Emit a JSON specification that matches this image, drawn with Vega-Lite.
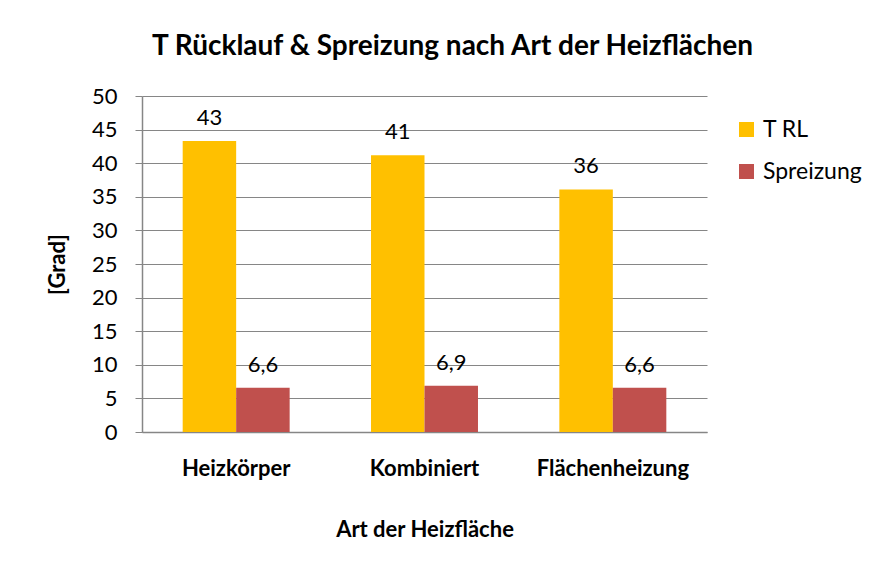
{
  "$schema": "https://vega.github.io/schema/vega-lite/v6.json",
  "width": 565,
  "height": 336,
  "autosize": {"type": "pad"},
  "padding": {"left": 46, "top": 33, "right": 5, "bottom": 5},
  "background": "white",
  "config": {"font": "Lato", "view": {"stroke": null}},
  "title": {"text": "T Rücklauf & Spreizung nach Art der Heizflächen", "fontSize": 28, "fontWeight": "bold", "font": "Lato", "color": "black", "anchor": "middle", "frame": "group", "dx": 28, "offset": 24},
  "data": {"values": [
    {"Art": "Heizkörper", "Serie": "T RL", "Wert": 43.3, "Label": "43"},
    {"Art": "Heizkörper", "Serie": "Spreizung", "Wert": 6.6, "Label": "6,6"},
    {"Art": "Kombiniert", "Serie": "T RL", "Wert": 41.2, "Label": "41"},
    {"Art": "Kombiniert", "Serie": "Spreizung", "Wert": 6.9, "Label": "6,9"},
    {"Art": "Flächenheizung", "Serie": "T RL", "Wert": 36.1, "Label": "36"},
    {"Art": "Flächenheizung", "Serie": "Spreizung", "Wert": 6.6, "Label": "6,6"}
  ]},
  "encoding": {
    "x": {"field": "Art", "type": "nominal", "sort": ["Heizkörper", "Kombiniert", "Flächenheizung"],
      "scale": {"paddingInner": 0.432, "paddingOuter": 0.216},
      "axis": {"title": "Art der Heizfläche", "labelAngle": 0, "labelFontSize": 22, "labelFontWeight": "bold", "labelColor": "black", "labelPadding": 26, "titleFontSize": 22, "titleFontWeight": "bold", "titleColor": "black", "titlePadding": 40, "ticks": false, "domainColor": "#868686", "domainWidth": 1.5}},
    "xOffset": {"field": "Serie", "type": "nominal", "sort": ["T RL", "Spreizung"], "scale": {"paddingInner": 0}},
    "y": {"field": "Wert", "type": "quantitative", "scale": {"domain": [0, 50], "nice": false},
      "axis": {"title": "[Grad]", "values": [0, 5, 10, 15, 20, 25, 30, 35, 40, 45, 50], "labelFontSize": 22, "labelColor": "black", "labelPadding": 18, "titleFontSize": 22, "titleFontWeight": "bold", "titleColor": "black", "titlePadding": 22, "gridColor": "#868686", "gridOpacity": 1, "domainColor": "#868686", "domainWidth": 1.5, "tickColor": "#868686", "tickSize": 7}}
  },
  "layer": [
    {"mark": {"type": "bar"},
      "encoding": {
        "color": {"field": "Serie", "type": "nominal", "sort": ["T RL", "Spreizung"],
          "scale": {"domain": ["T RL", "Spreizung"], "range": ["#FFC000", "#C0504D"]},
          "legend": {"title": null, "orient": "none", "legendX": 593, "legendY": 22, "symbolType": "square", "symbolSize": 225, "symbolStrokeWidth": 0, "labelFontSize": 23, "labelColor": "black", "rowPadding": 18, "labelOffset": 5}}
      }},
    {"mark": {"type": "text", "baseline": "bottom", "dy": -11, "fontSize": 22, "color": "black"},
      "encoding": {"text": {"field": "Label"}}}
  ]
}
